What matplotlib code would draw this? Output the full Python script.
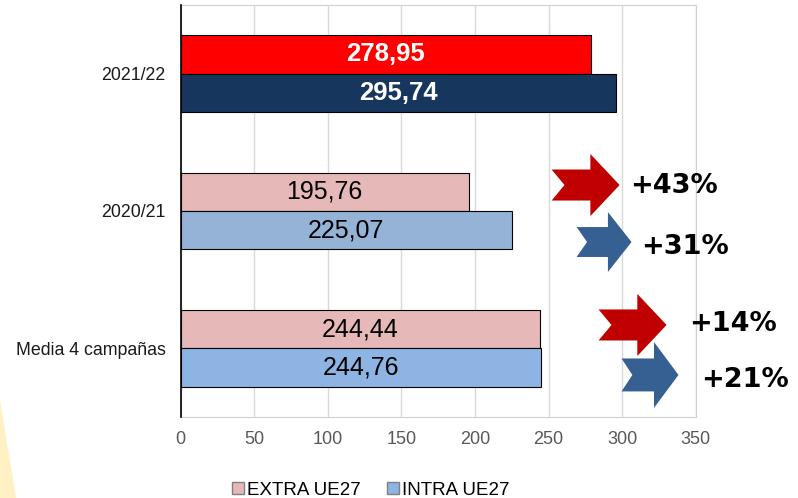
import matplotlib
matplotlib.use('Agg')
import matplotlib.pyplot as plt
from matplotlib.patches import Polygon, Patch

# Data
categories = ['Media 4 campañas', '2020/21', '2021/22']
extra_ue27 = [244.44, 195.76, 278.95]
intra_ue27 = [244.76, 225.07, 295.74]
extra_colors = ['#E6B9B8', '#E6B9B8', '#FF0000']
intra_colors = ['#8DB4E2', '#95B3D7', '#17365D']
label_colors = ['black', 'black', 'white']
label_weights = ['normal', 'normal', 'bold']

# Change arrows: Media extra, Media intra, 2020/21 extra, 2020/21 intra
changes = ['+14%', '+21%', '+43%', '+31%']

plt.rcParams['font.family'] = ['Liberation Sans', 'DejaVu Sans']

fig = plt.figure(figsize=(7.98, 4.98), dpi=100)
ax = fig.add_axes([0.2264, 0.1627, 0.872 - 0.2264, 0.99 - 0.1627])

# yellow wedge in the bottom left corner
fig.patches.append(Polygon([(0, 0.197), (0.02, 0), (0, 0)], closed=True,
                           transform=fig.transFigure, facecolor='#FFF1C4',
                           edgecolor='none', zorder=0))

h = 0.28
ypos = list(range(len(categories)))
b1 = ax.barh([y + h / 2 for y in ypos], extra_ue27, height=h, color=extra_colors,
             edgecolor='black', linewidth=0.8, zorder=3)
b2 = ax.barh([y - h / 2 for y in ypos], intra_ue27, height=h, color=intra_colors,
             edgecolor='black', linewidth=0.8, zorder=3)

for bars, vals in [(b1, extra_ue27), (b2, intra_ue27)]:
    for i, (bar, v) in enumerate(zip(bars, vals)):
        ax.text(bar.get_x() + bar.get_width() / 2, bar.get_y() + bar.get_height() / 2,
                f'{v:.2f}'.replace('.', ','), ha='center', va='center',
                fontsize=18.5 if label_weights[i] == 'bold' else 18,
                color=label_colors[i], fontweight=label_weights[i], zorder=4)

ax.set_xlim(0, 350)
ax.set_ylim(-0.5, 2.5)
ax.set_xticks(range(0, 351, 50))
ax.set_yticks(ypos)
ax.set_yticklabels(categories)
ax.tick_params(axis='y', length=0, pad=11, labelsize=12.8, labelcolor='#1a1a1a')
ax.tick_params(axis='x', length=0, pad=10, labelsize=13, labelcolor='#595959')
ax.grid(axis='x', color='#D9D9D9', linewidth=1, zorder=0)
ax.set_axisbelow(True)
for s in ['top', 'right', 'bottom']:
    ax.spines[s].set_color('#D0D0D0')
ax.spines['left'].set_color('black')
ax.spines['left'].set_linewidth(1.2)
ax.spines['left'].set_zorder(5)


def notched_arrow(x0, x1, yc, half_h, color, head=0.43, notch=0.19):
    xh = x1 - (x1 - x0) * head
    xn = x0 + (x1 - x0) * notch
    sh = half_h / 2
    pts = [(x0, yc + sh), (xh, yc + sh), (xh, yc + half_h), (x1, yc),
           (xh, yc - half_h), (xh, yc - sh), (x0, yc - sh), (xn, yc)]
    ax.add_patch(Polygon(pts, closed=True, facecolor=color, edgecolor='none',
                         zorder=6, clip_on=False))


arrow_x0 = [283.9, 299.5, 252.0, 269.0]
arrow_x1 = [330.1, 338.2, 298.2, 306.3]
arrow_y = [0.170, -0.194, 1.189, 0.774]
arrow_h = [0.226, 0.24, 0.226, 0.218]
arrow_c = ['#C00000', '#376092', '#C00000', '#376092']
text_x = [345.5, 353.5, 305.5, 312.5]
text_y = [0.177, -0.23, 1.182, 0.738]

for x0, x1, yc, hh, c in zip(arrow_x0, arrow_x1, arrow_y, arrow_h, arrow_c):
    notched_arrow(x0, x1, yc, hh, c)
for tx, ty, t in zip(text_x, text_y, changes):
    ax.text(tx, ty, t, ha='left', va='center', fontsize=19.5, fontweight='bold',
            family='DejaVu Sans', color='black', clip_on=False, zorder=7)

handles = [Patch(facecolor='#E6B9B8', edgecolor='#808080', label='EXTRA UE27'),
           Patch(facecolor='#8DB4E2', edgecolor='#808080', label='INTRA UE27')]
fig.legend(handles=handles, loc='center', bbox_to_anchor=(0.464, 0.016),
           ncol=2, frameon=False, fontsize=13.5, handlelength=0.65,
           handleheight=0.65, handletextpad=0.15, columnspacing=1.4)

fig.savefig('out.png', dpi=100)
